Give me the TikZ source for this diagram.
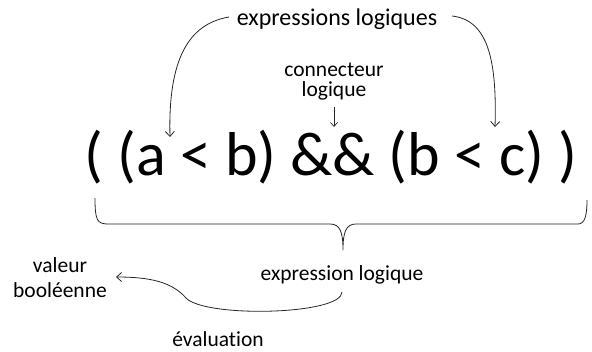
\documentclass[tikz,border=0pt]{standalone}
\usepackage{fontspec}
\setmainfont[Ligatures={NoCommon,NoRequired,NoContextual}]{Carlito}
\usetikzlibrary{arrows.meta}
\tikzset{
  lbl/.style={inner sep=0pt, font=\fontsize{21.5}{25}\selectfont},
  ttl/.style={inner sep=0pt, font=\fontsize{24}{28}\selectfont},
  big/.style={inner sep=0pt, font=\fontsize{62}{70}\selectfont},
  conn/.style={line width=0.8pt, draw=black!85, -{Straight Barb[length=5pt,width=9pt]}},
  brace/.style={line width=0.8pt, draw=black!85}
}
\begin{document}
\begin{tikzpicture}[x=1pt,y=-1pt]
\useasboundingbox (0,0) rectangle (592,351);
% texts
\node[ttl, anchor=base] (title) at (337,25) {expressions logiques};
\node[lbl, anchor=base] (conn1) at (334,76) {connecteur};
\node[lbl, anchor=base] (conn2) at (334,96) {logique};
\node[big, anchor=base] (expr) at (331,175) {( (a < b) \&\& (b < c) )};
\node[lbl, anchor=base] (exlog) at (342,280) {expression logique};
\node[lbl, anchor=base] (val1) at (60,272) {valeur};
\node[lbl, anchor=base] (val2) at (60,297) {booléenne};
\node[lbl, anchor=base] (eval) at (218,346) {évaluation};
% coordinates
\coordinate (ls) at (229,17);
\coordinate (le) at (170,137);
\coordinate (rs) at (452,16);
\coordinate (re) at (495,127);
\coordinate (cs) at (334,107);
\coordinate (ce) at (334,127);
\coordinate (es) at (342,292);
\coordinate (ee) at (116,277);
% arrows
\draw[conn] (ls) .. controls (188,24) and (168,60) .. (le);
\draw[conn] (rs) .. controls (488,20) and (497,60) .. (re);
\draw[line width=0.7pt, draw=black!85, -{Straight Barb[length=4pt,width=7pt]}] (cs) -- (ce);
\draw[conn] (es) .. controls (342,315) and (205,318) .. (186,298) .. controls (172,282) and (150,277) .. (ee);
% brace
\draw[brace] (95,198) .. controls (95,220) and (97,224) .. (108,224) -- (330,224)
  .. controls (340,224) and (343,232) .. (343,250)
  .. controls (343,232) and (346,224) .. (356,224) -- (578,224)
  .. controls (585,224) and (587,215) .. (587,200);
\end{tikzpicture}
\end{document}
